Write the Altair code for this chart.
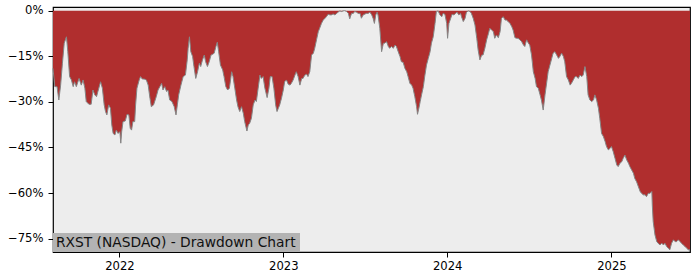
import altair as alt
import pandas as pd

start_date = "2021-08-06"

day_offsets = [
    0, 4, 9, 13, 17, 21, 25, 30, 33, 37, 41, 45, 48, 52, 58, 63, 67, 71, 74, 80,
    85, 89, 93, 97, 100, 106, 110, 114, 117, 120, 124, 128, 131, 134, 138, 141, 145, 149, 151, 153,
    156, 161, 165, 169, 172, 175, 178, 182, 184, 187, 192, 195, 199, 203, 208, 212, 216, 219, 224,
    230, 234, 238, 242, 245, 249, 253, 256, 260, 265, 270, 274, 277, 280, 285, 290, 295, 299, 301, 304,
    307, 311, 314, 318, 322, 326, 329, 333, 337, 340, 344, 348, 352, 355, 359, 363, 366, 369, 373, 378,
    381, 385, 389, 393, 398, 401, 405, 409, 412, 416, 420, 424, 427, 432, 435, 438, 442, 446, 450, 453, 457,
    461, 464, 468, 472, 477, 481, 484, 488, 492, 496, 499, 502, 505, 509, 513, 516, 520, 524, 528, 531,
    535, 539, 542, 546, 550, 554, 557, 561, 565, 568, 572, 576, 580, 583, 587, 591, 594, 598, 602, 606,
    609, 613, 617, 620, 624, 628, 632, 635, 639, 643, 646, 650, 654, 658, 661, 665, 669, 672, 676, 680,
    684, 687, 691,
    698, 702, 706, 710, 713, 716, 719, 722, 724, 728, 732, 736, 739, 743, 747, 750, 754, 758, 762, 765,
    769, 773, 776, 780, 784, 788, 791, 795, 799, 802, 806, 810, 812, 815, 818, 821, 825, 828, 832, 836,
    840, 843, 847, 851, 854, 858, 862, 866, 869, 873, 877, 879, 882, 886, 889, 893, 897, 900, 904, 908,
    910, 914, 918, 921, 925,
    929, 932, 936, 940, 944, 947, 951, 955, 958, 962, 966, 970, 973, 977, 981, 984, 988, 992, 996, 999,
    1003, 1007, 1010, 1014, 1018, 1022, 1025, 1029, 1033, 1036, 1040, 1044, 1048, 1051, 1055, 1059, 1062,
    1066, 1070, 1074, 1077, 1081, 1085, 1088, 1092, 1096, 1100, 1103, 1107, 1111, 1114, 1118, 1122, 1126,
    1129, 1133, 1137, 1140, 1144, 1148, 1152, 1155, 1159,
    1163, 1166, 1170, 1174, 1178, 1181, 1185, 1189, 1192, 1196, 1200, 1204, 1207, 1211, 1215, 1218, 1222,
    1226, 1230, 1233, 1237, 1241, 1244, 1248, 1252, 1256, 1259, 1263, 1267, 1270, 1274, 1278, 1282, 1285,
    1289, 1293, 1296, 1300, 1304, 1308, 1311, 1315, 1319, 1322, 1326, 1330, 1334, 1335, 1337, 1341, 1345,
    1348, 1352, 1356, 1360, 1363, 1367, 1371, 1374, 1378, 1382, 1386, 1389, 1393, 1397, 1400, 1404, 1408,
    1412, 1415, 1419,
]

drawdown_pct = [
    -19.0, -25.0, -25.0, -29.4, -24.5, -17.3, -10.7, -8.6, -13.5, -21.7, -22.8, -25.0, -23.4, -25.0, -22.3, -24.5, -22.8, -25.5, -29.9, -30.8,
    -30.8, -26.1, -27.7, -28.3, -26.6, -23.4, -25.5, -31.0, -33.2, -34.3, -31.0, -32.1, -37.6, -40.4, -40.9, -39.3, -40.4, -39.8, -43.6, -39.8,
    -36.5, -36.3, -34.1, -34.3, -38.7, -39.3, -36.5, -36.5, -31.0, -25.5, -22.8, -21.7, -22.5, -22.5, -22.8, -24.5, -28.8, -31.6, -31.0,
    -28.3, -26.1, -25.0, -23.9, -26.1, -25.0, -26.6, -26.1, -29.4, -29.9, -31.6, -34.3, -31.0, -27.7, -24.5, -21.7, -21.2, -16.2, -12.4, -8.6,
    -13.5, -15.1, -18.4, -22.3, -20.1, -17.3, -18.4, -16.2, -14.6, -16.8, -18.4, -16.8, -14.6, -14.4, -14.0, -11.8, -10.4, -13.5, -17.9, -19.5,
    -21.7, -25.0, -26.1, -25.5, -20.1, -21.7, -25.5, -29.4, -31.6, -33.2, -31.6, -33.8, -36.5, -39.6, -37.6, -37.1, -35.4, -31.0, -29.4, -29.9, -25.5,
    -21.2, -22.3, -21.7, -25.5, -28.6, -25.5, -21.7, -21.7, -25.5, -31.0, -33.2, -32.1, -31.0, -28.8, -26.1, -23.4, -22.8, -24.2, -24.5, -23.9,
    -22.8, -21.2, -20.1, -21.7, -24.5, -22.3, -22.3, -21.2, -20.9, -21.7, -20.1, -14.6, -14.0, -12.4, -9.6, -6.9, -5.8, -4.2, -3.1, -2.5,
    -2.0, -1.2, -1.4, -1.4, -1.1, -1.4, -0.9, -0.5, -0.1, -0.3, -0.1, 0.0, -0.3, -0.9, -2.7, -0.9, -0.9, -0.3, -0.5, -0.9,
    -0.9, -2.5, -1.4,
    -0.9, -0.9, -0.5, -1.4, -2.5, -4.2, -1.4, -0.5, -1.4, -5.8, -13.5, -10.7, -10.7, -10.2, -11.8, -12.4, -11.8, -12.4, -11.3, -11.8,
    -13.5, -15.1, -16.8, -17.0, -19.0, -20.1, -21.7, -23.9, -24.5, -25.5, -28.3, -31.6, -34.1, -32.1, -29.9, -27.7, -25.0, -21.7, -17.9, -15.7,
    -13.5, -10.7, -8.6, -4.2, -0.3, -0.1, -1.4, -2.0, -0.9, -1.2, -4.2, -9.1, -4.2, -2.5, -1.2, -1.4, -0.9, -0.5, -1.4, -0.9,
    -2.0, -3.6, -2.5, -0.5, -0.1,
    -0.3, -0.9, -2.5, -4.7, -9.1, -12.9, -16.2, -14.6, -14.6, -12.4, -9.6, -7.5, -5.8, -6.4, -6.9, -9.1, -8.0, -8.9, -6.9, -2.5,
    -2.0, -3.1, -3.1, -3.6, -4.2, -5.3, -6.4, -8.9, -9.1, -9.1, -9.6, -10.2, -11.3, -11.8, -9.6, -10.7, -11.3,
    -14.6, -20.1, -22.3, -25.0, -25.5, -27.7, -29.4, -32.7, -27.7, -23.4, -20.1, -17.9, -15.7, -14.0, -13.5, -14.6, -15.7,
    -15.1, -14.0, -15.1, -16.8, -21.7, -22.8, -24.5, -23.9, -22.8,
    -21.7, -21.7, -22.3, -21.2, -21.7, -21.2, -18.4, -21.7, -27.7, -29.4, -29.9, -29.4, -27.7, -29.4, -32.1, -35.4, -40.4,
    -41.4, -43.1, -44.7, -45.8, -45.3, -44.7, -46.4, -48.6, -50.8, -51.3, -50.2, -49.7, -48.6, -47.5, -49.1, -50.2, -51.3,
    -52.4, -53.5, -55.2, -56.3, -57.9, -59.5, -60.1, -60.6, -60.6, -61.2, -60.1, -60.1, -59.5, -63.9, -69.4, -73.8, -76.0,
    -76.5, -77.1, -76.5, -77.1, -76.5, -77.6, -78.2, -78.7, -76.5, -75.4, -76.0, -76.0, -75.4, -76.0, -76.5, -77.1, -77.6,
    -78.2, -78.7, -78.7,
]

y_ticks = [0, -15, -30, -45, -60, -75]
x_tick_years = [2022, 2023, 2024, 2025]
y_domain = [-79.4, 1.2]
label_text = "RXST (NASDAQ) - Drawdown Chart"

dates = pd.Timestamp(start_date) + pd.to_timedelta(day_offsets, unit="D")
df = pd.DataFrame({"date": dates.strftime("%Y-%m-%d"), "dd": drawdown_pct})

RED = "#b02e2e"
FONT = "DejaVu Sans"

x_enc = alt.X(
    "date:T",
    scale=alt.Scale(type="utc", nice=False),
    axis=alt.Axis(
        values=[alt.DateTime(year=y, month=1, date=1, utc=True) for y in x_tick_years],
        format="%Y",
        title=None,
        grid=False,
        domain=False,
        tickSize=5,
        tickColor="black",
        labelPadding=3,
    ),
)
y_enc = alt.Y(
    "dd:Q",
    scale=alt.Scale(domain=y_domain, nice=False, zero=False),
    axis=alt.Axis(
        values=y_ticks,
        labelExpr="datum.value == 0 ? '0%' : '\u2212' + abs(datum.value) + '%'",
        title=None,
        grid=False,
        domain=False,
        tickSize=5,
        tickColor="black",
        labelPadding=5,
    ),
)

base = alt.Chart(df)
area = base.mark_area(color=RED, opacity=1, interpolate="linear").encode(
    x=x_enc, y=y_enc, y2=alt.value(0)
)
line = base.mark_line(color="#858585", strokeWidth=1).encode(x="date:T", y="dd:Q")

lab_df = pd.DataFrame({"t": [label_text]})
box = alt.Chart(lab_df).mark_rect(color="#b3b3b3", opacity=1).encode(
    x=alt.value(0), x2=alt.value(247), y=alt.value(226), y2=alt.value(245)
)
txt = alt.Chart(lab_df).mark_text(
    align="left", baseline="alphabetic", font=FONT, fontSize=13.8, color="#111111"
).encode(x=alt.value(3), y=alt.value(240), text="t:N")

chart = (
    alt.layer(area, line, box, txt)
    .properties(
        width=637,
        height=245,
        autosize=alt.AutoSizeParams(type="none"),
        padding={"left": 53, "top": 7, "right": 10, "bottom": 28},
        background="white",
    )
    .configure_view(fill="#ededed", stroke="black", strokeWidth=1.2)
    .configure_axis(
        labelFont=FONT, labelFontSize=11.6, labelColor="black", tickWidth=1
    )
)

chart.save("out.html", embed_options={"renderer": "svg", "actions": False})
